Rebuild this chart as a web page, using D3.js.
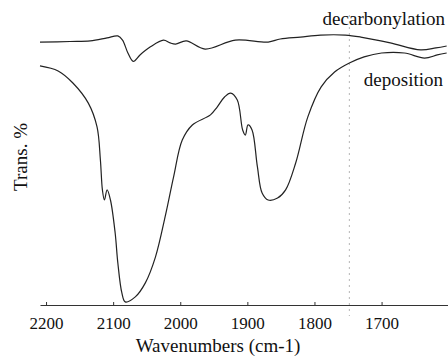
<!DOCTYPE html>
<html>
<head>
<meta charset="utf-8">
<script src="https://cdn.jsdelivr.net/npm/d3@7"></script>
<style>
  body { margin: 0; background: #fff; }
  text { font-family: "Liberation Serif", "DejaVu Serif", serif; fill: #111; }
</style>
</head>
<body>
<div id="chart"></div>
<script>
// wavenumbers (cm-1) and transmittance (arbitrary %)
var decarbWave = [2209, 2164, 2134, 2109, 2093, 2086, 2078, 2070, 2060, 2045, 2025, 2015, 2007, 1991, 1963, 1918, 1869, 1851, 1821, 1791, 1754, 1731, 1687, 1642, 1619, 1603];
var decarbTrans = [93.9, 94.1, 94.3, 95.4, 96.1, 94.6, 90.0, 87.0, 89.3, 92.1, 94.6, 93.6, 93.2, 94.3, 91.4, 94.6, 93.9, 95.0, 95.7, 96.4, 96.4, 95.7, 93.6, 91.1, 91.8, 92.5];

var depoWave = [2209, 2182, 2160, 2137, 2124, 2119, 2116, 2113, 2109, 2104, 2097, 2093, 2087, 2082, 2067, 2052, 2037, 2022, 2010, 1997, 1982, 1955, 1945, 1934, 1925, 1915, 1907, 1903, 1899, 1893, 1885, 1878, 1869, 1855, 1843, 1828, 1810, 1790, 1770, 1748, 1726, 1700, 1666, 1636, 1617, 1603];
var depoTrans = [85.4, 83.6, 79.3, 72.1, 63.6, 51.8, 41.1, 37.5, 41.1, 37.5, 25.7, 15.0, 4.3, 1.1, 2.9, 7.9, 17.1, 32.1, 45.7, 58.9, 64.3, 67.9, 70.7, 74.3, 75.7, 73.2, 62.5, 60.7, 64.3, 62.5, 49.3, 40.0, 37.5, 38.2, 41.1, 50.7, 67.1, 77.9, 83.2, 86.4, 88.6, 90.0, 90.0, 88.2, 89.3, 90.0];

var xTicks = [2200, 2100, 2000, 1900, 1800, 1700];
var markerWave = 1748;

var width = 448, height = 356;

var svg = d3.select("#chart").append("svg")
  .attr("width", width)
  .attr("height", height);

// x runs right-to-left in wavenumber
var x = d3.scaleLinear().domain([2209, 1601]).range([40, 448]);
var y = d3.scaleLinear().domain([0, 100]).range([305, 25]);

var line = d3.line()
  .x(d => x(d[0]))
  .y(d => y(d[1]))
  .curve(d3.curveCatmullRom.alpha(0.5));

// dotted marker line
svg.append("line")
  .attr("x1", x(markerWave)).attr("x2", x(markerWave))
  .attr("y1", 15).attr("y2", 316)
  .attr("stroke", "#b5b5b5")
  .attr("stroke-width", 1)
  .attr("stroke-dasharray", "2,4");

svg.append("path")
  .datum(d3.zip(decarbWave, decarbTrans))
  .attr("fill", "none")
  .attr("stroke", "#222")
  .attr("stroke-width", 1.2)
  .attr("d", line);

svg.append("path")
  .datum(d3.zip(depoWave, depoTrans))
  .attr("fill", "none")
  .attr("stroke", "#222")
  .attr("stroke-width", 1.2)
  .attr("d", line);

// bottom axis, ticks point up
var xAxis = d3.axisBottom(x)
  .tickValues(xTicks)
  .tickFormat(d3.format("d"))
  .tickSizeInner(-3)
  .tickSizeOuter(0)
  .tickPadding(12);

var gx = svg.append("g")
  .attr("transform", "translate(0,305)")
  .call(xAxis);
gx.select(".domain").attr("stroke", "#333");
gx.selectAll(".tick line").attr("stroke", "#333");
gx.selectAll(".tick text")
  .style("font-family", "'Liberation Serif', serif")
  .style("font-size", "17px")
  .attr("fill", "#111");

svg.append("text")
  .attr("x", 218).attr("y", 352)
  .attr("text-anchor", "middle")
  .style("font-size", "19px")
  .text("Wavenumbers (cm-1)");

svg.append("text")
  .attr("transform", "translate(27,157) rotate(-90)")
  .attr("text-anchor", "middle")
  .style("font-size", "19px")
  .text("Trans. %");

svg.append("text")
  .attr("x", 445).attr("y", 25)
  .attr("text-anchor", "end")
  .style("font-size", "19px")
  .text("decarbonylation");

svg.append("text")
  .attr("x", 443).attr("y", 86)
  .attr("text-anchor", "end")
  .style("font-size", "19px")
  .text("deposition");
</script>
</body>
</html>
